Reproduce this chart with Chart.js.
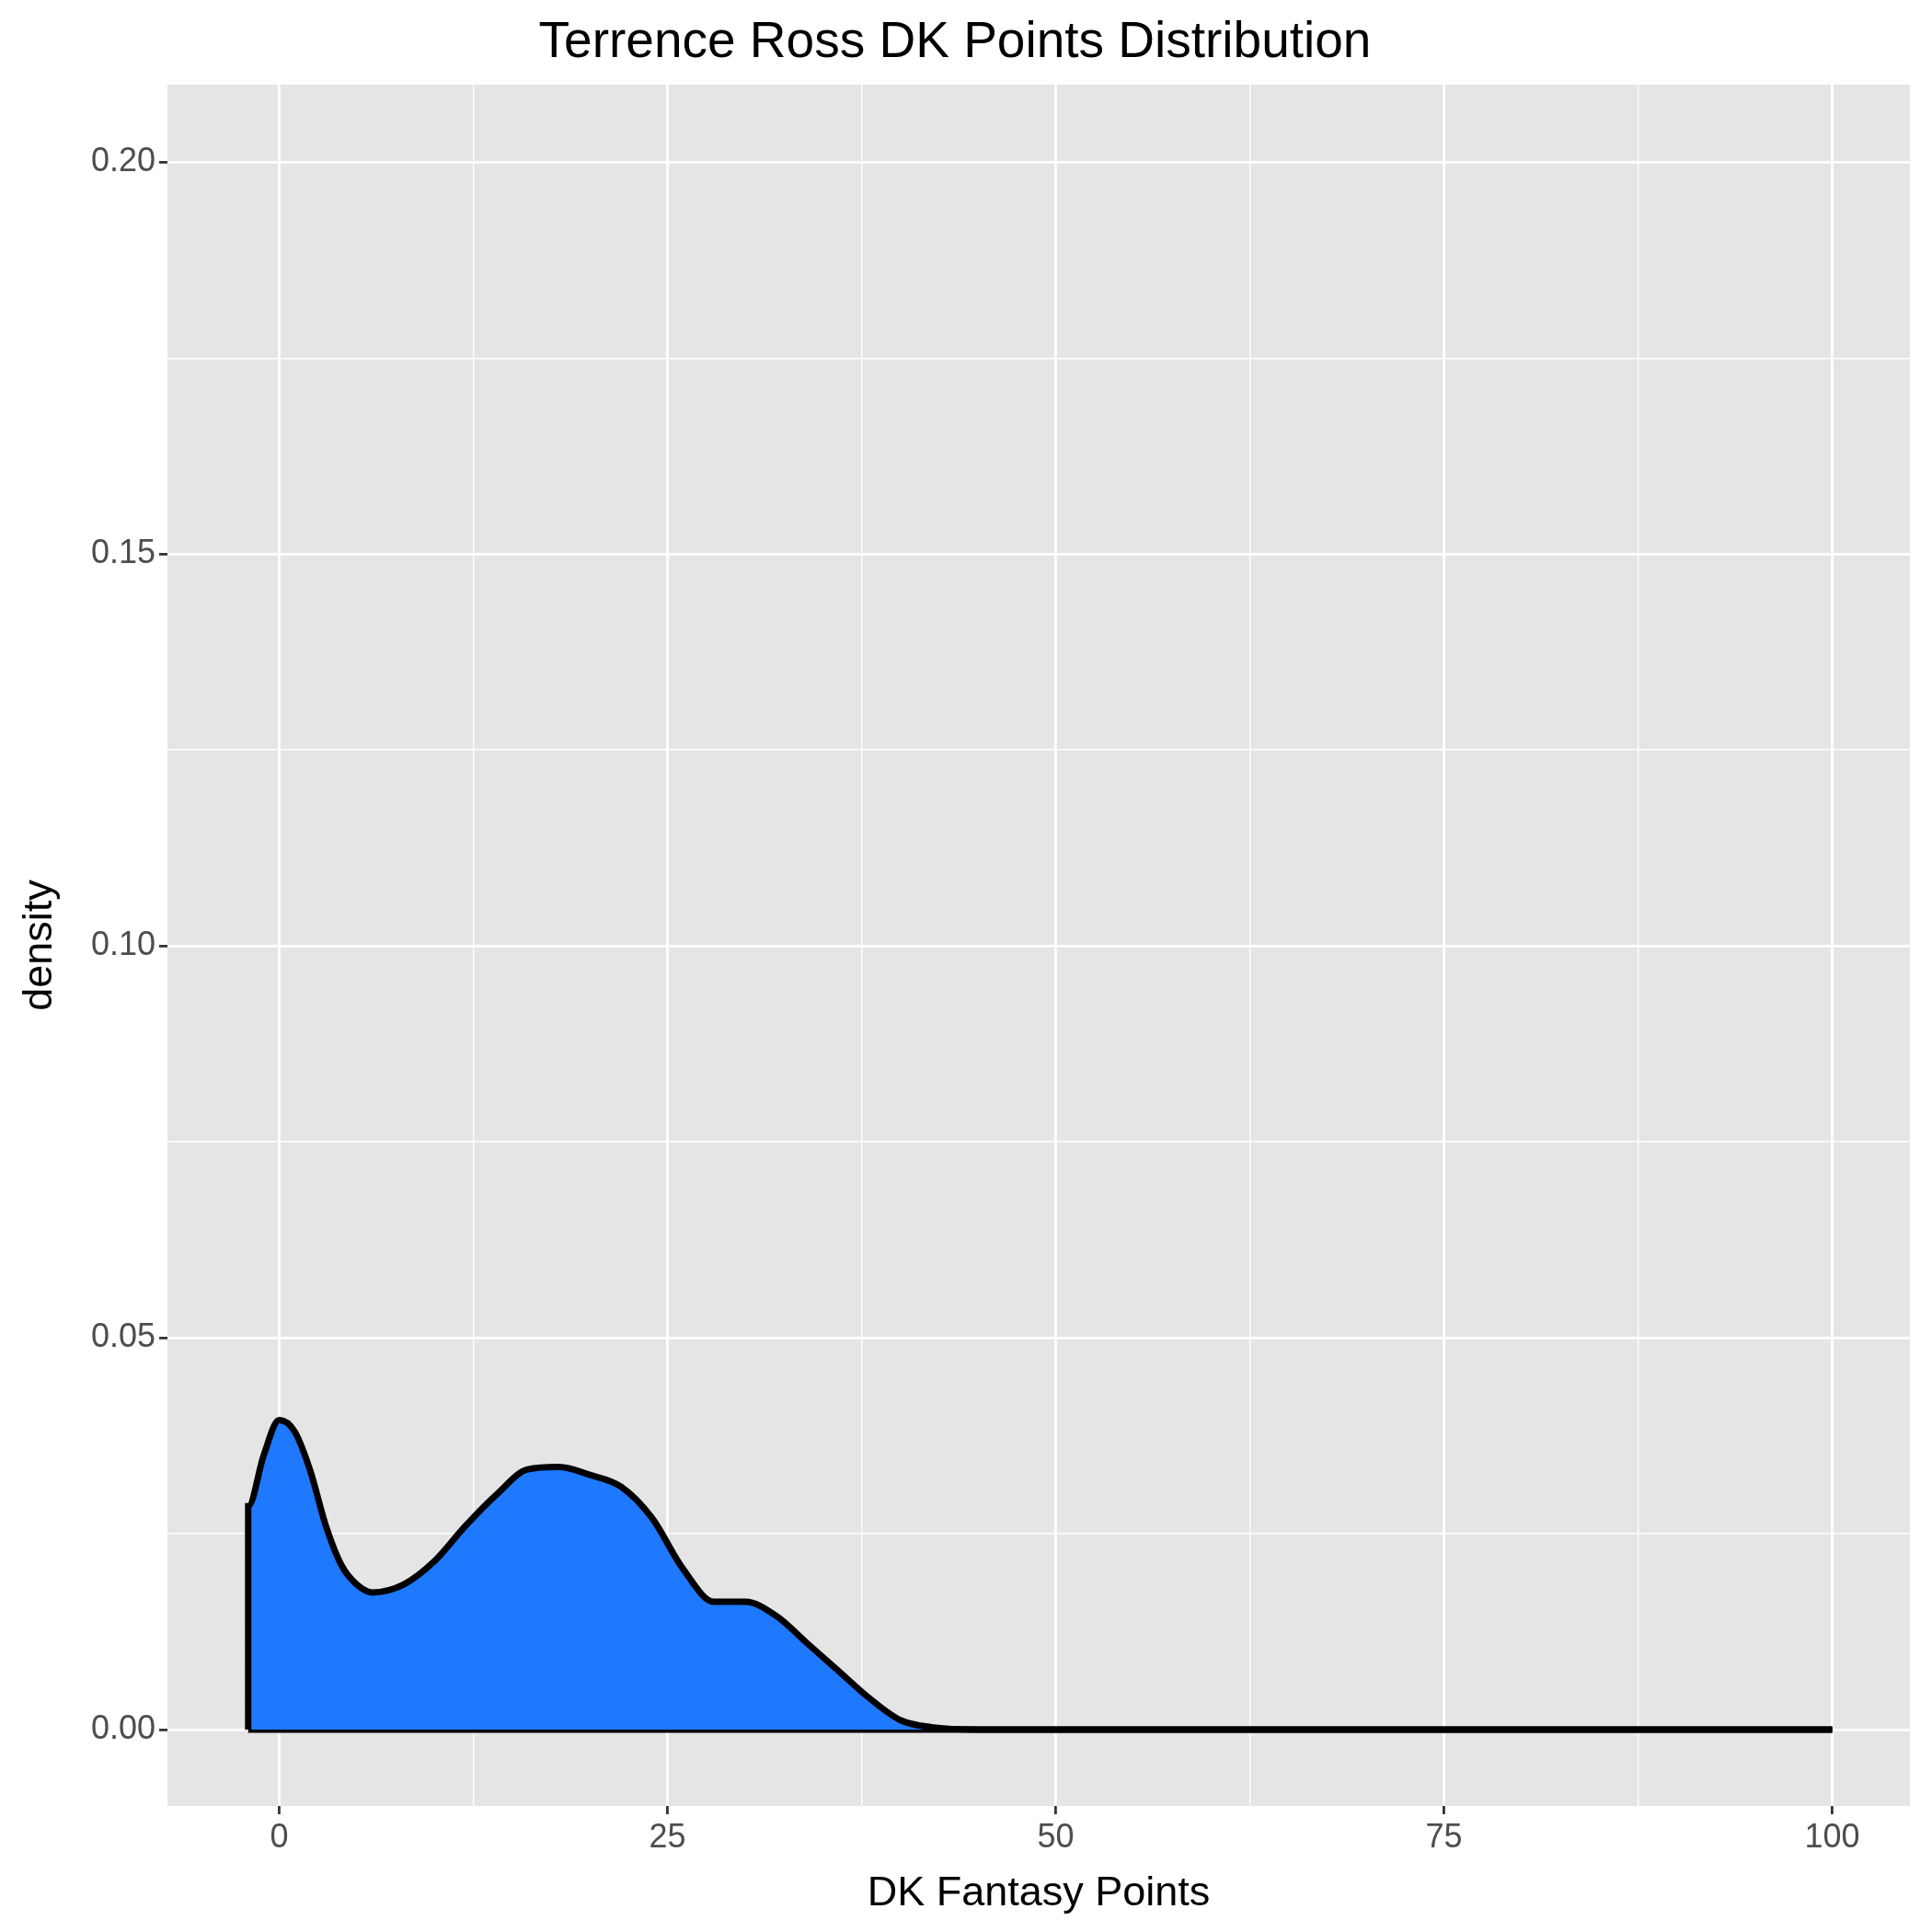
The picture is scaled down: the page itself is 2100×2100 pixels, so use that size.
<!DOCTYPE html>
<html>
<head>
<meta charset="utf-8">
<script src="https://cdn.jsdelivr.net/npm/chart.js@4/dist/chart.umd.min.js"></script>
<style>
  html, body { margin: 0; padding: 0; background: #fff; }
  #wrap { width: 2100px; height: 2100px; }
</style>
</head>
<body>
<div id="wrap"><canvas id="densityChart" width="2100" height="2100"></canvas></div>
<script>
// Density curve
const pointsX = [-2, -2, -1, 0, 1, 2, 3, 4, 5, 6, 8, 10, 12, 14, 16, 18, 20, 22, 24, 26, 28, 30, 32, 34, 36, 38, 40, 42, 45, 100];
const densityY = [0, 0.0285, 0.035, 0.0395, 0.038, 0.033, 0.026, 0.021, 0.0185, 0.0175, 0.0185, 0.0215, 0.026, 0.030, 0.0332, 0.0335, 0.0325, 0.031, 0.027, 0.0205, 0.0163, 0.0163, 0.0145, 0.011, 0.0075, 0.004, 0.0012, 0.0003, 0, 0];
const xTicks = [0, 25, 50, 75, 100];
const yTicks = [0, 0.05, 0.10, 0.15, 0.20];

const curve = pointsX.map((x, i) => ({ x: x, y: densityY[i] }));
const baseline = [{ x: -2, y: 0 }, { x: 100, y: 0 }];

// grey panel behind the plot
const panelBg = {
  id: 'panelBg',
  beforeDraw(chart) {
    const a = chart.chartArea;
    const ctx = chart.ctx;
    ctx.save();
    ctx.fillStyle = '#e5e5e5';
    ctx.fillRect(a.left, a.top, a.right - a.left, a.bottom - a.top);
    ctx.restore();
  }
};

const isMajor = (v, list) => list.some(t => Math.abs(t - v) < 1e-9);

new Chart(document.getElementById('densityChart').getContext('2d'), {
  type: 'scatter',
  data: {
    datasets: [
      {
        data: curve,
        showLine: true,
        fill: 'origin',
        backgroundColor: '#1e79ff',
        borderColor: '#000',
        borderWidth: 7,
        pointRadius: 0,
        tension: 0.4,
        cubicInterpolationMode: 'monotone'
      },
      {
        data: baseline,
        showLine: true,
        fill: false,
        borderColor: '#000',
        borderWidth: 7,
        pointRadius: 0
      }
    ]
  },
  options: {
    responsive: false,
    animation: false,
    devicePixelRatio: 1,
    layout: { padding: { left: 0, right: 24, top: 0, bottom: 0 } },
    plugins: {
      legend: { display: false },
      tooltip: { enabled: false },
      title: {
        display: true,
        text: 'Terrence Ross DK Points Distribution',
        color: '#000',
        font: { family: 'Liberation Sans, Arial', size: 55, weight: 'normal' },
        padding: { top: 14, bottom: 12 }
      }
    },
    scales: {
      x: {
        type: 'linear',
        min: -7.2,
        max: 105,
        afterBuildTicks: s => {
          s.ticks = [-12.5, 0, 12.5, 25, 37.5, 50, 62.5, 75, 87.5, 100].filter(v => v >= s.min && v <= s.max).map(v => ({ value: v }));
        },
        afterFit: s => { s.height = 137; },
        border: { display: false },
        grid: {
          color: '#fff',
          lineWidth: c => isMajor(c.tick.value, xTicks) ? 2.8 : 1.4,
          tickColor: c => isMajor(c.tick.value, xTicks) ? '#333' : 'rgba(0,0,0,0)',
          tickLength: 9
        },
        ticks: {
          autoSkip: false,
          maxRotation: 0,
          color: '#4d4d4d',
          font: { family: 'Liberation Sans, Arial', size: 36 },
          padding: 4,
          callback: v => isMajor(v, xTicks) ? String(v) : ''
        },
        title: {
          display: true,
          text: 'DK Fantasy Points',
          color: '#000',
          font: { family: 'Liberation Sans, Arial', size: 45 },
          padding: { top: 0, bottom: 14 }
        }
      },
      y: {
        type: 'linear',
        min: -0.00975,
        max: 0.2099,
        afterBuildTicks: s => {
          const list = [];
          for (let i = 0; i <= 8; i++) list.push(i * 0.025);
          s.ticks = list.filter(v => v >= s.min && v <= s.max).map(v => ({ value: v }));
        },
        afterFit: s => { s.width = 182; },
        border: { display: false },
        grid: {
          color: '#fff',
          lineWidth: c => isMajor(c.tick.value, yTicks) ? 2.8 : 1.4,
          tickColor: c => isMajor(c.tick.value, yTicks) ? '#333' : 'rgba(0,0,0,0)',
          tickLength: 9
        },
        ticks: {
          autoSkip: false,
          color: '#4d4d4d',
          font: { family: 'Liberation Sans, Arial', size: 36 },
          padding: 4,
          callback: v => isMajor(v, yTicks) ? v.toFixed(2) : ''
        },
        title: {
          display: true,
          text: 'density',
          color: '#000',
          font: { family: 'Liberation Sans, Arial', size: 45 },
          padding: { top: 17, bottom: 0 }
        }
      }
    }
  },
  plugins: [panelBg]
});
</script>
</body>
</html>
